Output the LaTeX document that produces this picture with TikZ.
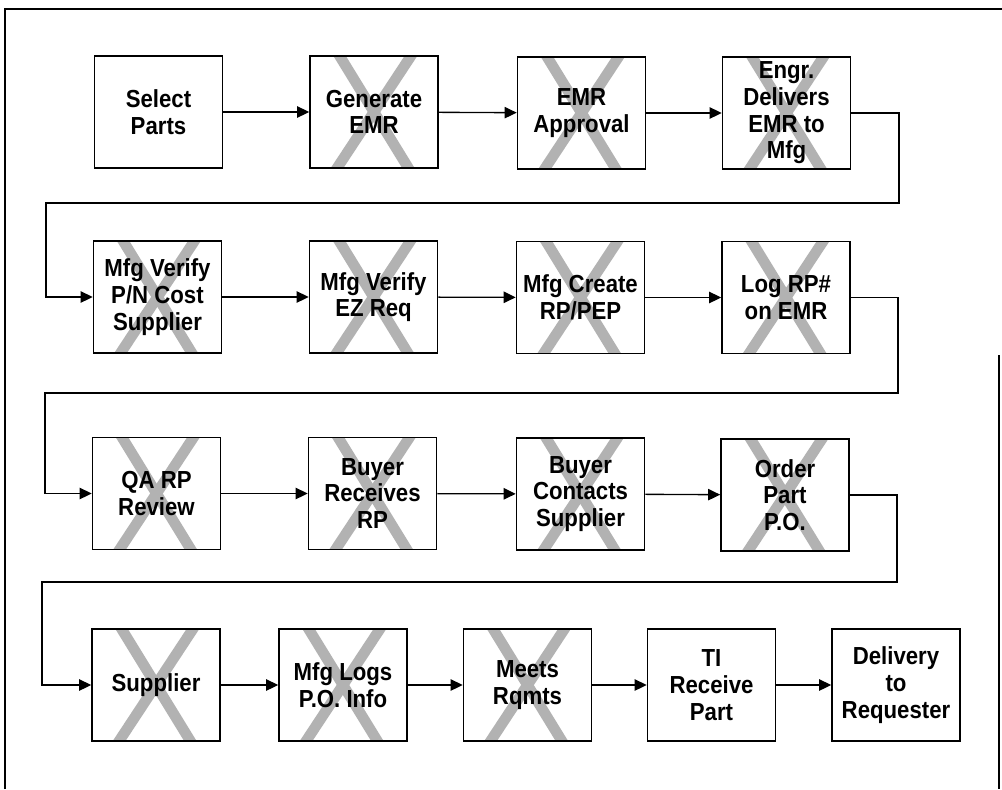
\documentclass[tikz,border=0pt]{standalone}
\usepackage{fontspec}
\setmainfont{Liberation Sans}[FakeStretch=0.9]
\usetikzlibrary{arrows.meta}
\tikzset{
  box/.style={draw=black, line width=1.2pt, fill=white, minimum width=96pt, minimum height=84pt,
    inner sep=0pt, align=center, font=\fontsize{18.5}{20}\selectfont\bfseries},
  xbox/.style={box, path picture={
    \draw[xstroke] ([xshift=21pt,yshift=2pt]path picture bounding box.north west) -- ([xshift=-21pt,yshift=-2pt]path picture bounding box.south east);
    \draw[xstroke] ([xshift=-19pt,yshift=2pt]path picture bounding box.north east) -- ([xshift=19pt,yshift=-2pt]path picture bounding box.south west);
  }},
  xstroke/.style={draw=black!30, line width=8pt},
  arr/.style={line width=1pt, -{Triangle[length=9pt,width=8.5pt]}},
  frame/.style={line width=1.5pt},
}
\begin{document}
\begin{tikzpicture}[x=0.75pt, y=-0.75pt]
\useasboundingbox (0,0) rectangle (1002,789);
% outer frame
\draw[frame] (5,789) -- (5,9) -- (1002,9);
\draw[frame] (999,355) -- (999,789);
% row 1
\node[box]  (sel)  at (158.5,112) {Select\\Parts};
\node[xbox] (gen)  at (374,112)   {Generate\\EMR};
\node[xbox] (appr) at (581.5,113) {EMR\\Approval};
\node[xbox] (engr) at (786.5,113) {Engr.\\Delivers\\EMR to\\Mfg};
% row 2
\node[xbox] (pn)   at (157.5,297) {Mfg Verify\\P/N Cost\\Supplier};
\node[xbox] (ez)   at (373.5,297) {Mfg Verify\\EZ Req};
\node[xbox] (crt)  at (580.5,297.5) {Mfg Create\\RP/PEP};
\node[xbox] (log)  at (786,297.5) {Log RP\#\\on EMR};
% row 3
\node[xbox] (qa)   at (156.5,493.5) {QA RP\\Review};
\node[xbox] (brec) at (372.5,493.5) {Buyer\\Receives\\RP};
\node[xbox] (bcon) at (580.5,494) {Buyer\\Contacts\\Supplier};
\node[xbox] (ord)  at (785,495) {Order\\Part\\P.O.};
% row 4
\node[xbox] (sup)  at (156,685) {Supplier};
\node[xbox] (mlog) at (343,685) {Mfg Logs\\P.O. Info};
\node[xbox] (meet) at (527.5,685) {Meets\\Rqmts};
\node[box]  (ti)   at (711.5,685) {TI\\Receive\\Part};
\node[box]  (del)  at (896,685) {Delivery\\to\\Requester};
% turn points
\coordinate (r1) at (899,203);
\coordinate (l1) at (46,203);
\coordinate (r2) at (898,393);
\coordinate (l2) at (45,393);
\coordinate (r3) at (897,582);
\coordinate (l3) at (42,582);
% connectors
\draw[arr] (sel) -- (gen);
\draw[arr] (gen) -- (appr);
\draw[arr] (appr) -- (engr);
\draw[arr] (engr.east) -| (r1) -- (l1) |- (pn.west);
\draw[arr] (pn) -- (ez);
\draw[arr] (ez) -- (crt);
\draw[arr] (crt) -- (log);
\draw[arr] (log.east) -| (r2) -- (l2) |- (qa.west);
\draw[arr] (qa) -- (brec);
\draw[arr] (brec) -- (bcon);
\draw[arr] (bcon) -- (ord);
\draw[arr] (ord.east) -| (r3) -- (l3) |- (sup.west);
\draw[arr] (sup) -- (mlog);
\draw[arr] (mlog) -- (meet);
\draw[arr] (meet) -- (ti);
\draw[arr] (ti) -- (del);
\end{tikzpicture}
\end{document}
